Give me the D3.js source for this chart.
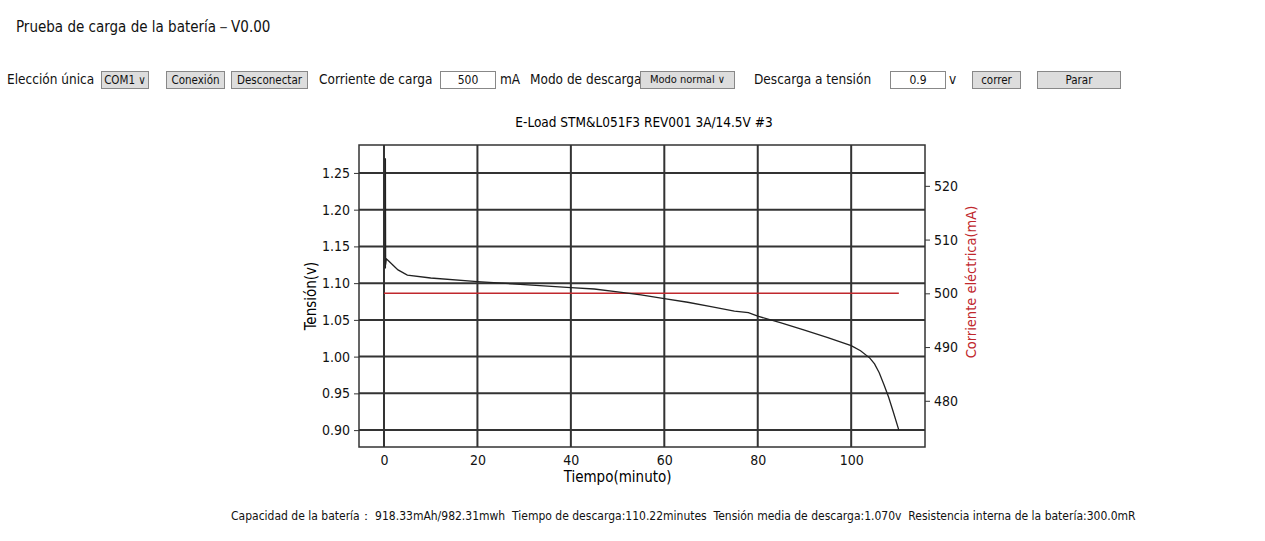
<!DOCTYPE html>
<html>
<head>
<meta charset="utf-8">
<script src="https://d3js.org/d3.v7.min.js"></script>
<style>
  body { margin: 0; background: #fff; font-family: "DejaVu Sans", sans-serif; font-stretch: condensed; color: #111; }
  .t { position: absolute; white-space: nowrap; font-size: 13.5px; }
  .btn { position: absolute; background: #ddd; border: 1px solid #888; font-size: 11.5px; height: 16px; line-height: 16px; text-align: center; }
  .inp { position: absolute; background: #fff; border: 1px solid #888; font-size: 12px; height: 16px; line-height: 16px; text-align: center; }
  svg { position: absolute; left: 0; top: 0; }
  svg text { font-family: "DejaVu Sans", sans-serif; font-stretch: condensed; }
</style>
</head>
<body>
<div class="t" style="left:16px;top:18px;font-size:15px">Prueba de carga de la batería－V0.00</div>
<div class="t" style="left:7px;top:71px">Elección única</div>
<div class="btn" style="left:101px;top:71px;width:46px">COM1 ∨</div>
<div class="btn" style="left:166px;top:71px;width:57px">Conexión</div>
<div class="btn" style="left:231px;top:71px;width:75px">Desconectar</div>
<div class="t" style="left:319px;top:71px">Corriente de carga</div>
<div class="inp" style="left:440px;top:71px;width:54px">500</div>
<div class="t" style="left:500px;top:71px">mA</div>
<div class="t" style="left:530px;top:71px">Modo de descarga</div>
<div class="btn" style="left:640px;top:71px;width:93px;font-size:11px">Modo normal ∨</div>
<div class="t" style="left:754px;top:71px">Descarga a tensión</div>
<div class="inp" style="left:890px;top:71px;width:54px">0.9</div>
<div class="t" style="left:949px;top:71px">v</div>
<div class="btn" style="left:972px;top:71px;width:47px">correr</div>
<div class="btn" style="left:1037px;top:71px;width:82px">Parar</div>
<div class="t" style="left:231px;top:508px;font-size:12px">Capacidad de la batería：&nbsp;918.33mAh/982.31mwh&nbsp;&nbsp;Tiempo de descarga:110.22minutes&nbsp;&nbsp;Tensión media de descarga:1.070v&nbsp;&nbsp;Resistencia interna de la batería:300.0mR</div>
<svg id="chart" width="1265" height="541"></svg>
<script>
const timeMin = [0.3, 0.3, 0.35, 0.5, 1, 2, 3, 5, 10, 20, 30, 40, 45, 50, 55, 60, 65, 70, 75, 78, 80, 85, 90, 95, 100, 102, 104, 105, 106, 107, 108, 109, 110.2];
const voltage = [1.12, 1.27, 1.125, 1.133, 1.13, 1.124, 1.118, 1.111, 1.107, 1.102, 1.098, 1.094, 1.092, 1.088, 1.084, 1.079, 1.074, 1.068, 1.062, 1.060, 1.055, 1.046, 1.036, 1.026, 1.015, 1.008, 0.998, 0.99, 0.978, 0.962, 0.945, 0.925, 0.90];
const currentTime = [0, 110.2];
const currentMA = [500, 500];
const xTicks = [0, 20, 40, 60, 80, 100];
const vTicks = [0.90, 0.95, 1.00, 1.05, 1.10, 1.15, 1.20, 1.25];
const iTicks = [480, 490, 500, 510, 520];

const L = 359, R = 925, T = 145, B = 447;
const x = d3.scaleLinear().domain([-5.35, 115.8]).range([L, R]);
const yV = d3.scaleLinear().domain([0.877, 1.288]).range([B, T]);
const yI = d3.scaleLinear().domain([471.4, 527.6]).range([B, T]);

const svg = d3.select("#chart");

// grid
svg.append("g").selectAll("line").data(vTicks).join("line")
  .attr("x1", L).attr("x2", R).attr("y1", d => yV(d)).attr("y2", d => yV(d))
  .attr("stroke", "#333").attr("stroke-width", 2);
svg.append("g").selectAll("line").data(xTicks).join("line")
  .attr("y1", T).attr("y2", B).attr("x1", d => x(d)).attr("x2", d => x(d))
  .attr("stroke", "#333").attr("stroke-width", 2);
svg.append("rect").attr("x", L).attr("y", T).attr("width", R - L).attr("height", B - T)
  .attr("fill", "none").attr("stroke", "#333").attr("stroke-width", 1.5);

// axes
const ax = svg.append("g").attr("transform", `translate(0,${B})`)
  .call(d3.axisBottom(x).tickValues(xTicks).tickSize(0).tickPadding(8));
const ay = svg.append("g").attr("transform", `translate(${L},0)`)
  .call(d3.axisLeft(yV).tickValues(vTicks).tickFormat(d3.format(".2f")).tickSize(5).tickPadding(4));
const ay2 = svg.append("g").attr("transform", `translate(${R},0)`)
  .call(d3.axisRight(yI).tickValues(iTicks).tickSize(5).tickPadding(4));
[ax, ay, ay2].forEach(g => {
  g.select(".domain").remove();
  g.selectAll("text").attr("font-size", 14).attr("font-family", null).attr("fill", "#111");
  g.selectAll("line").attr("stroke", "#333");
});

// series
svg.append("path").datum(currentTime.map((t, i) => [t, currentMA[i]]))
  .attr("d", d3.line().x(d => x(d[0])).y(d => yI(d[1])))
  .attr("fill", "none").attr("stroke", "#c0282d").attr("stroke-width", 1.5);
svg.append("path").datum(timeMin.map((t, i) => [t, voltage[i]]))
  .attr("d", d3.line().x(d => x(d[0])).y(d => yV(d[1])))
  .attr("fill", "none").attr("stroke", "#222").attr("stroke-width", 1.3);

// labels
svg.append("text").attr("x", (L + R) / 2 + 2).attr("y", 127).attr("text-anchor", "middle")
  .attr("font-size", 13.5).text("E-Load STM&L051F3 REV001 3A/14.5V #3");
svg.append("text").attr("x", x(50)).attr("y", 482).attr("text-anchor", "middle")
  .attr("font-size", 15).text("Tiempo(minuto)");
svg.append("text").attr("transform", `translate(316,${(T + B) / 2}) rotate(-90)`).attr("text-anchor", "middle")
  .attr("font-size", 15).text("Tensión(v)");
svg.append("text").attr("transform", `translate(976,${(T + B) / 2 - 14}) rotate(-90)`).attr("text-anchor", "middle")
  .attr("font-size", 14.5).attr("fill", "#c0282d").text("Corriente eléctrica(mA)");
</script>
</body>
</html>
